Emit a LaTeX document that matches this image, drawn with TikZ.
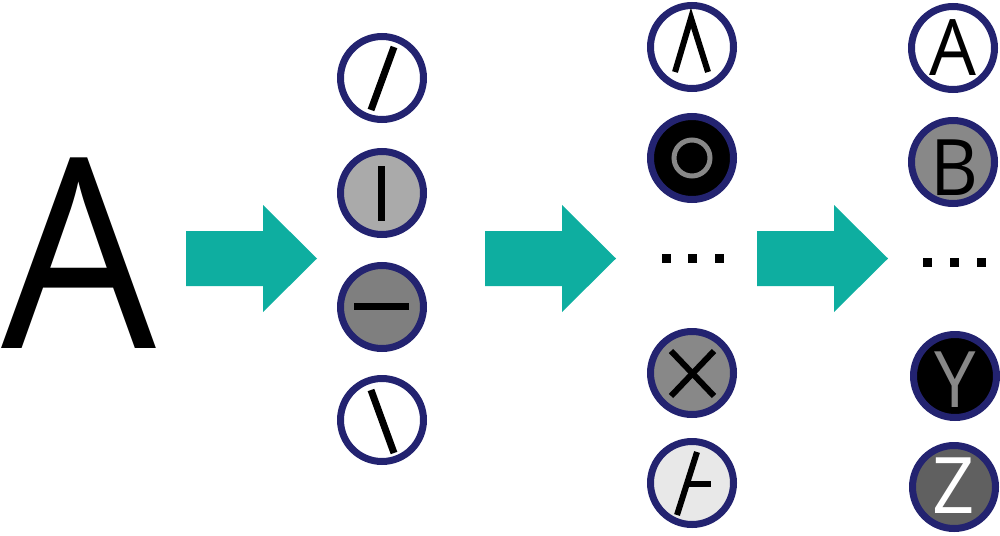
\documentclass[tikz,border=0pt]{standalone}
\usepackage{fontspec}
\setmainfont{Open Sans}
\definecolor{navy}{RGB}{35,35,112}
\definecolor{teal}{RGB}{14,174,160}
\definecolor{gA}{RGB}{170,170,170}
\definecolor{gB}{RGB}{127,127,127}
\definecolor{gC}{RGB}{136,136,136}
\definecolor{gD}{RGB}{232,232,232}
\definecolor{gE}{RGB}{96,96,96}
\tikzset{
  unit/.style={circle, draw=navy, line width=7pt, minimum size=83pt, inner sep=0pt},
  mark line/.style={line width=7pt, line cap=butt},
  thin mark/.style={line width=6pt, line cap=butt},
  dotbox/.style={rectangle, fill=black, minimum size=9pt, inner sep=0pt},
  bigletter/.style={font=\fontsize{266}{266}\selectfont, inner sep=0pt, anchor=base, xscale=0.92},
  letter/.style={font=\fontsize{78}{78}\selectfont, inner sep=0pt, anchor=base, xscale=0.95},
  flow/.style={fill=teal},
}
\begin{document}
\begin{tikzpicture}[x=1pt,y=-1pt]
\useasboundingbox (0,0) rectangle (1000,535);
% big letter
\node[bigletter] (bigA) at (78.5,348) {A};
% arrows
\foreach \x [count=\i] in {186,485,757} {
  \fill[flow] (\x,231) -- (\x+77,231) -- (\x+77,205) -- (\x+131,258.5) -- (\x+77,312) -- (\x+77,286) -- (\x,286) -- cycle;
}
% column 1
\node[unit, fill=white] (c1a) at (382,78) {};
\node[unit, fill=gA]    (c1b) at (382,193) {};
\node[unit, fill=gB]    (c1c) at (382,307) {};
\node[unit, fill=white] (c1d) at (382,420) {};
\draw[mark line] (371,110) -- (394,47);
\draw[mark line] (381,166) -- (381,221);
\draw[mark line] (354,306) -- (409,306);
\draw[mark line] (371,390) -- (394,453);
% column 2
\node[unit, fill=white] (c2a) at (692,47) {};
\node[unit, fill=black] (c2b) at (692,158) {};
\node[unit, fill=gC]    (c2c) at (692,373) {};
\node[unit, fill=gD]    (c2d) at (692,483) {};
\draw[thin mark] (675,72) -- (691,18) -- (708,72);
\draw[gC, line width=5pt] (c2b.center) circle (18pt);
\draw[thin mark] (671,351) -- (714,396);
\draw[thin mark] (714,351) -- (671,396);
\draw[thin mark] (697,452) -- (677,515);
\draw[thin mark] (687,484) -- (711,484);
\node[dotbox] (d2a) at (666.5,258) {};
\node[dotbox] (d2b) at (692.5,258) {};
\node[dotbox] (d2c) at (719,258) {};
% column 3
\node[unit, fill=white] (c3a) at (953,48) {};
\node[unit, fill=gC]    (c3b) at (953,162) {};
\node[unit, fill=black] (c3c) at (955,376) {};
\node[unit, fill=gE]    (c3d) at (954,487) {};
\node[letter] (lA) at (953,75) {A};
\node[letter] (lB) at (954,195) {B};
\node[letter, text=gC] (lY) at (955,407) {Y};
\node[letter, text=white] (lZ) at (954,513) {Z};
\node[dotbox] (d3a) at (927.5,262) {};
\node[dotbox] (d3b) at (954,262) {};
\node[dotbox] (d3c) at (981,262) {};
\end{tikzpicture}
\end{document}
